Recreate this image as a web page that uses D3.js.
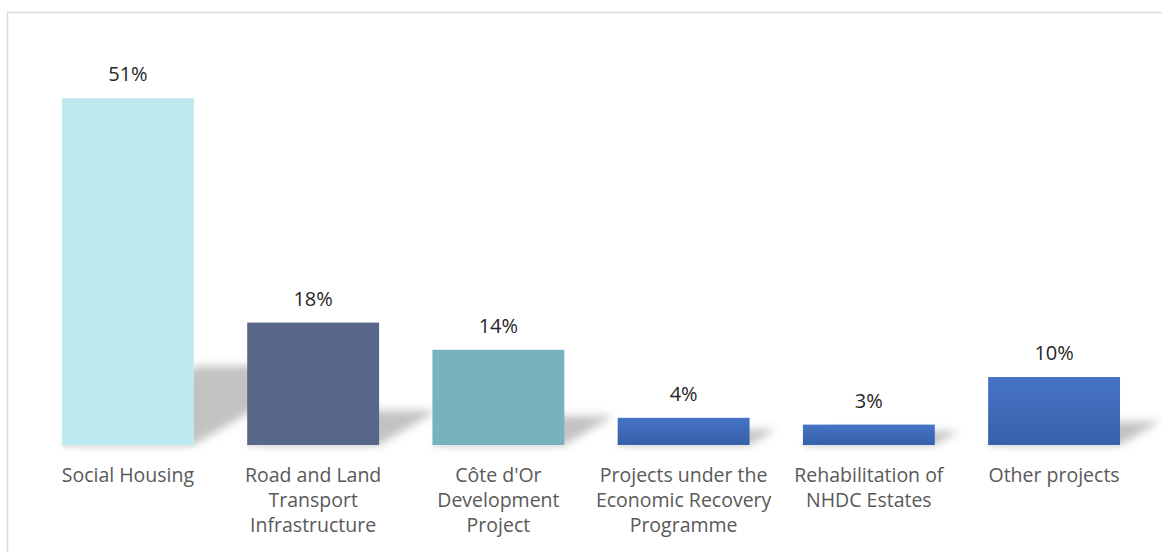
<!DOCTYPE html>
<html>
<head>
<meta charset="utf-8">
<script src="https://cdn.jsdelivr.net/npm/d3@7"></script>
<style>
  html, body { margin: 0; padding: 0; background: #fff; }
  svg { display: block; }
</style>
</head>
<body>
<div id="chart"></div>
<script>
// ---- data ----
const categories = [
  "Social Housing",
  "Road and Land\nTransport\nInfrastructure",
  "Côte d'Or\nDevelopment\nProject",
  "Projects under the\nEconomic Recovery\nProgramme",
  "Rehabilitation of\nNHDC Estates",
  "Other projects"
];
const values = [51, 18, 14, 4, 3, 10];
const valueLabels = ["51%", "18%", "14%", "4%", "3%", "10%"];
const barColors = ["#bee9ee", "#576689", "#77b3bd", "grad", "grad", "grad"];

// ---- layout ----
const W = 1162, H = 552;
const baseY = 445;
const svg = d3.select("#chart").append("svg").attr("width", W).attr("height", H);

const defs = svg.append("defs");
const blur = defs.append("filter").attr("id", "blur")
  .attr("x", "-50%").attr("y", "-50%").attr("width", "200%").attr("height", "200%");
blur.append("feGaussianBlur").attr("stdDeviation", 4);
const blur2 = defs.append("filter").attr("id", "blur2")
  .attr("x", "-50%").attr("y", "-50%").attr("width", "200%").attr("height", "200%");
blur2.append("feGaussianBlur").attr("stdDeviation", 1.5);
const grad = defs.append("linearGradient").attr("id", "blueGrad")
  .attr("x1", 0).attr("y1", 0).attr("x2", 0).attr("y2", 1);
grad.append("stop").attr("offset", "0%").attr("stop-color", "#4673c5");
grad.append("stop").attr("offset", "100%").attr("stop-color", "#3760aa");

// chart border (extends past right and bottom edges)
svg.append("rect")
  .attr("x", 7.5).attr("y", 12.5).attr("width", W).attr("height", H)
  .attr("fill", "none").attr("stroke", "#dadada").attr("stroke-width", 1.5);

const x = d3.scaleBand()
  .domain(d3.range(categories.length))
  .range([35.3, 1146.7])
  .paddingInner(0.288)
  .paddingOuter(0.144);

const y = d3.scaleLinear().domain([0, 60]).range([baseY, baseY - 60 * 6.8]);

// shadows
const shadowG = svg.append("g");
values.forEach((v, i) => {
  const x0 = x(i), x1 = x(i) + x.bandwidth();
  const h = baseY - y(v);
  const sh = h * 0.2 + 10;
  const dx = sh * 1.7;
  shadowG.append("polygon")
    .attr("points", [
      [x0, baseY], [x1, baseY], [x1 + dx, baseY - sh], [x0 + dx, baseY - sh]
    ].map(p => p.join(",")).join(" "))
    .attr("fill", "#b4b4b4")
    .attr("opacity", 0.8)
    .attr("filter", "url(#blur)");
  shadowG.append("rect")
    .attr("x", x0).attr("y", baseY - 1).attr("width", x.bandwidth()).attr("height", 3)
    .attr("fill", "#e4e4e4").attr("filter", "url(#blur2)");
});

// bars
svg.append("g").selectAll("rect").data(values).join("rect")
  .attr("x", (d, i) => x(i))
  .attr("y", d => y(d))
  .attr("width", x.bandwidth())
  .attr("height", d => baseY - y(d))
  .attr("fill", (d, i) => barColors[i] === "grad" ? "url(#blueGrad)" : barColors[i]);

// value labels
svg.append("g").selectAll("text").data(values).join("text")
  .attr("x", (d, i) => x(i) + x.bandwidth() / 2)
  .attr("y", d => y(d) - 17)
  .attr("text-anchor", "middle")
  .attr("font-family", "'Open Sans', sans-serif")
  .attr("font-size", 20)
  .attr("fill", "#262626")
  .text((d, i) => valueLabels[i]);

// category labels
const catG = svg.append("g");
categories.forEach((c, i) => {
  const t = catG.append("text")
    .attr("x", x(i) + x.bandwidth() / 2)
    .attr("y", 482)
    .attr("text-anchor", "middle")
    .attr("font-family", "'Open Sans', sans-serif")
    .attr("font-size", 19.5)
    .attr("fill", "#595959");
  c.split("\n").forEach((line, j) => {
    t.append("tspan")
      .attr("x", x(i) + x.bandwidth() / 2)
      .attr("dy", j === 0 ? 0 : 25)
      .text(line);
  });
});
</script>
</body>
</html>
